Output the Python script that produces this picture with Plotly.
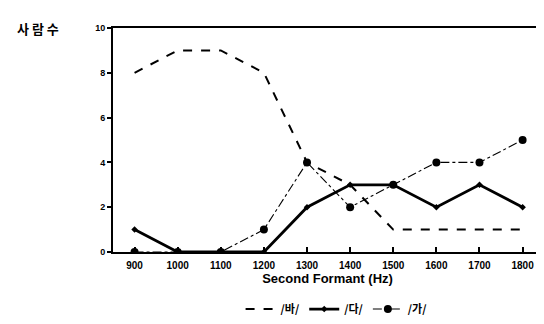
import plotly.graph_objects as go

formant = [900, 1000, 1100, 1200, 1300, 1400, 1500, 1600, 1700, 1800]
ba = [8, 9, 9, 8, 4, 3, 1, 1, 1, 1]
da = [1, 0, 0, 0, 2, 3, 3, 2, 3, 2]
ga = [0, 0, 0, 1, 4, 2, 3, 4, 4, 5]
y_ticks = [0, 2, 4, 6, 8, 10]
names = ["/바/", "/다/", "/가/"]

font = "Liberation Sans, Arial, sans-serif"
kfont = "Noto Sans CJK KR, sans-serif"

fig = go.Figure()
fig.add_trace(go.Scatter(x=formant, y=ba, name=names[0], mode="lines",
                         line=dict(color="black", width=2, dash="dash")))
fig.add_trace(go.Scatter(x=formant, y=da, name=names[1], mode="lines+markers",
                         line=dict(color="black", width=2.8),
                         marker=dict(symbol="diamond", size=5, color="black")))
fig.add_trace(go.Scatter(x=formant, y=ga, name=names[2], mode="lines+markers",
                         line=dict(color="black", width=1.1, dash="dashdot"),
                         marker=dict(symbol="circle", size=8, color="black")))

fig.update_layout(
    width=544, height=324,
    margin=dict(l=105, r=8, t=20, b=73),
    paper_bgcolor="white", plot_bgcolor="white",
    showlegend=True,
    legend=dict(orientation="h", x=0.52, xanchor="center", y=-0.19, yanchor="top",
                font=dict(family=kfont, size=11, color="black", weight="bold"),
                itemwidth=30, tracegroupgap=0, bgcolor="rgba(0,0,0,0)"),
    xaxis=dict(range=[850, 1845], tickvals=formant,
               ticktext=[str(v) for v in formant],
               ticks="inside", ticklen=5, tickwidth=1.5, tickcolor="black",
               ticklabelstandoff=3,
               showgrid=False, zeroline=False,
               showline=True, linecolor="black", linewidth=2, mirror=True,
               tickfont=dict(family=font, size=10, color="black", weight="bold"),
               title=dict(text="Second Formant (Hz)", standoff=4,
                          font=dict(family=font, size=13, color="black", weight="bold"))),
    yaxis=dict(range=[0, 10], tickvals=y_ticks,
               ticks="outside", ticklen=4, tickwidth=1.5, tickcolor="black",
               showgrid=False, zeroline=False,
               showline=True, linecolor="black", linewidth=2, mirror=True,
               tickfont=dict(family=font, size=9, color="black", weight="bold")),
    annotations=[dict(text="사 람 수", xref="paper", yref="paper", x=-0.228, y=1.0,
                      xanchor="left", yanchor="middle", showarrow=False,
                      font=dict(family=kfont, size=13, color="black", weight="bold"))],
)

fig.write_html("out.html")
